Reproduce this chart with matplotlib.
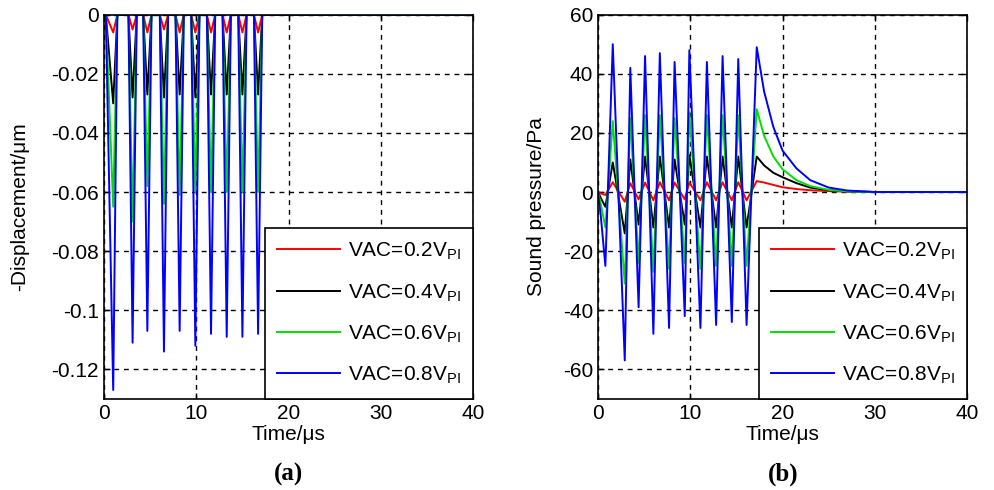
import matplotlib
matplotlib.use('Agg')
import matplotlib.pyplot as plt

plt.rcParams['font.family'] = ['Liberation Sans', 'DejaVu Sans']
plt.rcParams['mathtext.fontset'] = 'custom'
plt.rcParams['mathtext.rm'] = 'Liberation Sans'
plt.rcParams['axes.unicode_minus'] = False

labels = ['VAC=0.2V$_{\\rm PI}$', 'VAC=0.4V$_{\\rm PI}$',
          'VAC=0.6V$_{\\rm PI}$', 'VAC=0.8V$_{\\rm PI}$']
colors = ['#ff0000', '#000000', '#00e000', '#0000ff']

# (a) displacement (start / bottom / end of each pulse)
disp_t = [0.0, 0.2, 1.0, 1.45, 2.65, 3.1, 3.55, 4.25, 4.7, 5.15, 6.05, 6.5, 6.95,
          7.75, 8.2, 8.65, 9.45, 9.9, 10.35, 11.15, 11.6, 12.05, 12.85, 13.3, 13.75,
          14.55, 15.0, 15.45, 16.25, 16.7, 17.15, 40.0]
disp_02 = [0, 0, -0.006, 0, 0, -0.005, 0, 0, -0.006, 0, 0, -0.005, 0, 0, -0.006, 0,
           0, -0.006, 0, 0, -0.006, 0, 0, -0.006, 0, 0, -0.006, 0, 0, -0.006, 0, 0]
disp_04 = [0, 0, -0.030, 0, 0, -0.028, 0, 0, -0.027, 0, 0, -0.028, 0, 0, -0.027, 0,
           0, -0.028, 0, 0, -0.027, 0, 0, -0.027, 0, 0, -0.027, 0, 0, -0.027, 0, 0]
disp_06 = [0, 0, -0.065, 0, 0, -0.070, 0, 0, -0.058, 0, 0, -0.064, 0, 0, -0.061, 0,
           0, -0.060, 0, 0, -0.060, 0, 0, -0.060, 0, 0, -0.060, 0, 0, -0.060, 0, 0]
disp_08 = [0, 0, -0.127, 0, 0, -0.111, 0, 0, -0.107, 0, 0, -0.114, 0, 0, -0.107, 0,
           0, -0.112, 0, 0, -0.108, 0, 0, -0.109, 0, 0, -0.109, 0, 0, -0.108, 0, 0]

# (b) sound pressure, peaks and troughs
press_t = [0, 0.3, 0.8, 1.6, 2.9, 3.5, 4.4, 5.1, 6.0, 6.7, 7.7, 8.3, 9.4, 9.9, 11.1,
           11.8, 12.8, 13.5, 14.5, 15.2, 16.1, 17.2, 18.0, 19.0, 20.0, 21.5, 23.0,
           25.0, 27.0, 30.0, 40.0]
press_02 = [0, -0.5, -1, 3.3, -3.3, 3, -2.5, 3.2, -2.8, 3.3, -2.8, 3.2, -2.5, 3.3,
            -2.8, 3.3, -2.8, 3.3, -2.8, 3.3, -2.8, 3.7, 3.2, 2.4, 1.6, 1, 0.6, 0.3,
            0.1, 0, 0]
press_04 = [0, -2, -5, 10, -14, 11, -11, 12, -12, 12, -12, 11, -11, 12.5, -12, 12,
            -12, 12, -12, 12, -12, 12, 9, 6.5, 5, 3, 1.5, 0.6, 0.2, 0, 0]
press_06 = [0, -4, -12, 24, -31, 25, -24, 26, -27, 26, -26, 25, -24, 27, -26, 26,
            -25, 26, -25, 26, -25, 28, 19, 12, 7.7, 4, 2, 0.7, 0.2, 0, 0]
press_08 = [0, -8, -25, 50, -57, 42, -39, 46, -48, 47, -46, 44, -42, 48, -46, 44,
            -45, 46, -44, 45, -45, 49, 34, 22, 14, 8, 4, 1.5, 0.5, 0, 0]

x_ticks = [0, 10, 20, 30, 40]
disp_ticks = [0, -0.02, -0.04, -0.06, -0.08, -0.1, -0.12]
disp_ticklabels = ['0', '-0.02', '-0.04', '-0.06', '-0.08', '-0.1', '-0.12']
press_ticks = [60, 40, 20, 0, -20, -40, -60]
press_ticklabels = ['60', '40', '20', '0', '-20', '-40', '-60']

fig = plt.figure(figsize=(9.95, 4.9), dpi=100)
ax1 = fig.add_axes([0.1045, 0.186, 0.371, 0.784])
ax2 = fig.add_axes([0.601, 0.186, 0.371, 0.784])

fs = 15


def style(ax):
    ax.set_xlim(0, 40)
    ax.set_xticks(x_ticks)
    ax.tick_params(direction='in', length=4, labelsize=fs, top=True, right=True,
                   width=1)
    ax.grid(True, color='k', linestyle=(0, (3.5, 3.5)), linewidth=1)
    for s in ax.spines.values():
        s.set_linewidth(1.2)
    ax.set_xlabel('Time/μs', fontsize=fs, labelpad=2)
    leg = ax.legend(loc='lower right', borderaxespad=0, fancybox=False,
                    edgecolor='k', framealpha=1, fontsize=fs, handlelength=3.0,
                    handletextpad=0.4, labelspacing=0.95, borderpad=0.6)
    leg.get_frame().set_linewidth(1.2)


for ys, c, lab in zip([disp_02, disp_04, disp_06, disp_08], colors, labels):
    ax1.plot(disp_t, ys, color=c, linewidth=1.4, label=lab)
ax1.set_ylim(-0.13, 0)
ax1.set_yticks(disp_ticks)
ax1.set_yticklabels(disp_ticklabels)
ax1.set_ylabel('-Displacement/μm', fontsize=fs, labelpad=16)
style(ax1)

for ys, c, lab in zip([press_02, press_04, press_06, press_08], colors, labels):
    ax2.plot(press_t, ys, color=c, linewidth=1.4, label=lab)
ax2.set_ylim(-70, 60)
ax2.set_yticks(press_ticks)
ax2.set_yticklabels(press_ticklabels)
ax2.set_ylabel('Sound pressure/Pa', fontsize=fs, labelpad=12)
style(ax2)

fig.text(0.29, 0.032, '(a)', family=['Liberation Serif'], fontweight='bold',
         fontsize=18, ha='center', va='center')
fig.text(0.787, 0.032, '(b)', family=['Liberation Serif'], fontweight='bold',
         fontsize=18, ha='center', va='center')

plt.savefig('out.png', dpi=100)
